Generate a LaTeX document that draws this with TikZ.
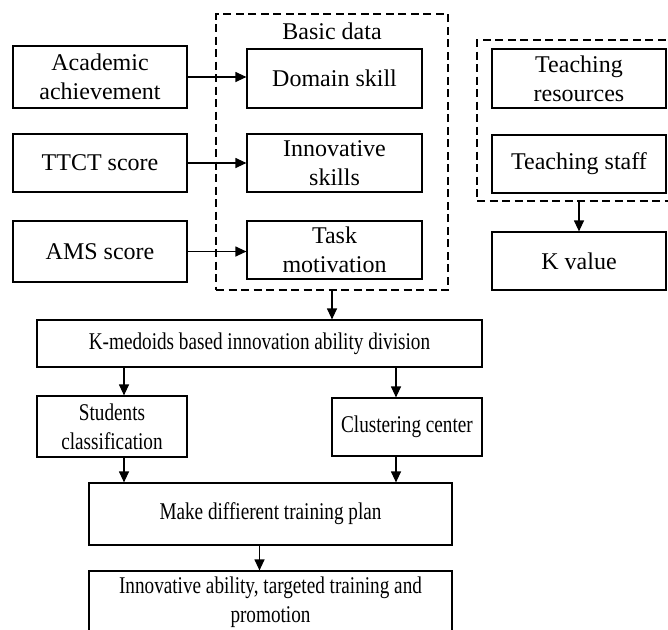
\documentclass[tikz,border=0pt]{standalone}
\usepackage{fontspec}
\setmainfont{Liberation Serif}
\newfontfamily\narrowserif{Liberation Serif}[FakeStretch=0.8]
\usetikzlibrary{arrows.meta}

\begin{document}
\begin{tikzpicture}[>={Triangle[length=11pt,width=10pt]},x=1pt,y=-1pt,
	box/.style={draw,line width=1.2pt,inner sep=0pt,align=center,font=\fontsize{24}{29}\selectfont},
	lowbox/.style={box,font=\fontsize{24}{29}\narrowserif},
	group/.style={draw,line width=1.2pt,dash pattern=on 8pt off 4.5pt,inner sep=0pt},
	arr/.style={->,line width=1.2pt}]
			\useasboundingbox (0,0) rectangle (668,629);
			\clip (0,0) rectangle (668,629);
			% inputs
			\node[box,minimum width=174pt,minimum height=62pt] (acad) at (100,77) {Academic\\achievement};
			\node[box,minimum width=174pt,minimum height=58pt] (ttct) at (100,163) {TTCT score};
			\node[box,minimum width=174pt,minimum height=61pt] (ams) at (100,251.5) {AMS score};
			% basic data
			\node[group,minimum width=232pt,minimum height=276pt] (basic) at (332,152) {};
			\node[box,draw=none] (basiclbl) at (332,31) {Basic data};
			\node[box,minimum width=175pt,minimum height=59pt] (domain) at (334.5,78.5) {Domain skill};
			\node[box,minimum width=175pt,minimum height=58pt] (innov) at (334.5,163) {Innovative\\skills};
			\node[box,minimum width=175pt,minimum height=58pt] (task) at (334.5,250) {Task\\motivation};
			% teaching
			\node[group,minimum width=220pt,minimum height=161pt] (teach) at (587,120.5) {};
			\node[box,minimum width=174pt,minimum height=59pt] (res) at (579,78.5) {Teaching\\resources};
			\node[box,minimum width=174pt,minimum height=58pt] (staff) at (579,164) {Teaching staff};
			\node[box,minimum width=174pt,minimum height=58pt] (kval) at (579,261) {K value};
			% lower part
			\node[lowbox,minimum width=445pt,minimum height=47pt] (kmed) at (259.5,343.5) {K-medoids based innovation ability division};
			\node[lowbox,minimum width=150pt,minimum height=61pt] (stud) at (112,426.5) {Students\\classification};
			\node[lowbox,minimum width=150pt,minimum height=58pt] (clus) at (407,427) {Clustering center};
			\node[lowbox,minimum width=363pt,minimum height=62pt] (plan) at (270.5,514) {Make diffierent training plan};
			\node[lowbox,minimum width=363pt,minimum height=62pt] (final) at (270.5,602) {Innovative ability, targeted training and\\promotion};
			\coordinate (lcol) at (124,0);
			\coordinate (rcol) at (396,0);
			% arrows
			\draw[arr] (acad.east) -- (acad.east -| domain.west);
			\draw[arr] (ttct.east) -- (ttct.east -| innov.west);
			\draw[arr] (ams.east) -- (ams.east -| task.west);
			\draw[arr] (teach.south -| kval) -- (kval);
			\draw[arr] (basic.south) -- (basic.south |- kmed.north);
			\draw[arr] (kmed.south -| lcol) -- (stud.north -| lcol);
			\draw[arr] (kmed.south -| rcol) -- (clus.north -| rcol);
			\draw[arr] (stud.south -| lcol) -- (plan.north -| lcol);
			\draw[arr] (clus.south -| rcol) -- (plan.north -| rcol);
			\draw[arr] (plan.south -| kmed) -- (final.north -| kmed);
		\end{tikzpicture}
\end{document}
